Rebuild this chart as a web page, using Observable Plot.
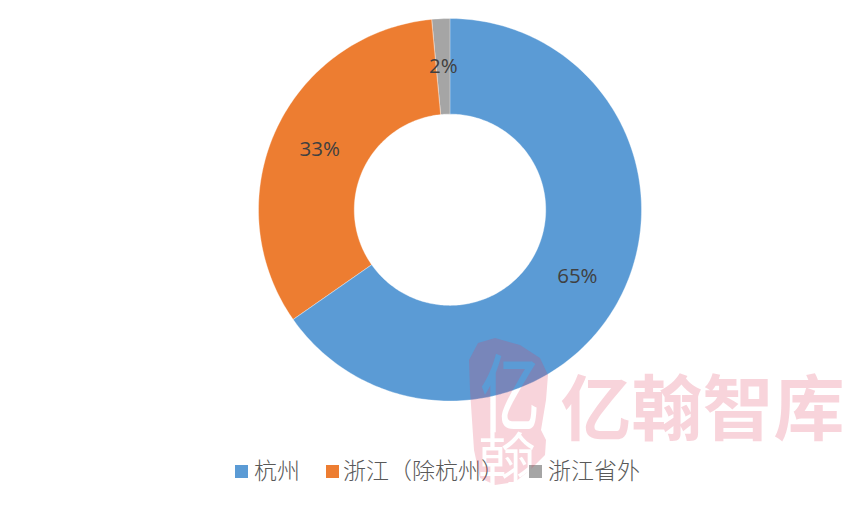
<!DOCTYPE html>
<html><head><meta charset="utf-8">
<script src="https://cdn.jsdelivr.net/npm/d3@7"></script>
<script src="https://cdn.jsdelivr.net/npm/@observablehq/plot@0.6"></script>
<style>
html,body{margin:0;padding:0;background:#fff;width:866px;height:505px;overflow:hidden;position:relative}
#legend{position:absolute;left:0;top:457px;width:866px;height:24px;font:300 23px "Noto Sans CJK SC",sans-serif;color:#595959}
#legend span{position:absolute;top:0;white-space:nowrap;line-height:24px;height:24px}
#legend i{position:absolute;top:8px;width:13px;height:13px}
#mark{position:absolute;left:0;top:0;pointer-events:none}
</style></head><body>
<div id="chart"></div>
<div id="legend"></div>
<svg id="mark" width="866" height="505" xmlns="http://www.w3.org/2000/svg">
  <defs><mask id="seal" maskUnits="userSpaceOnUse" x="0" y="0" width="866" height="505">
    <rect width="866" height="505" fill="#fff"/>
    <text transform="translate(510,425) scale(.85,1.2)" text-anchor="middle" font-family="Noto Sans CJK SC" font-size="70" font-weight="500" fill="#000">亿</text>
    <text x="507" y="481" text-anchor="middle" font-family="Noto Sans CJK SC" font-size="58" font-weight="400" fill="#000">翰</text>
  </mask></defs>
  <path mask="url(#seal)" fill="rgba(225,60,90,.22)" d="M469,360 L478,343 L495,338 L520,345 L540,358 L548,375 L546,400 L541,430 L546,440 L545,455 L530,470 L515,482 L495,485 L480,478 L474,450 L472,420 L470,390 Z"/>
  <text x="702.5" y="434" text-anchor="middle" font-family="Noto Sans CJK SC" font-size="71" font-weight="700" fill="rgba(225,60,90,.22)">亿翰智库</text>
</svg>
<script>
const categories = ["杭州", "浙江（除杭州）", "浙江省外"];
const shares = [65.3, 33.2, 1.5];
const labels = ["65%", "33%", "2%"];
const colors = ["#5B9BD5", "#ED7D31", "#A5A5A5"];
const holeRatio = 0.5;

const pie = d3.pie().sort(null)(shares);
// Ring outline of each slice, in unit-circle coordinates, derived from its share.
const ring = pie.flatMap((s, i) => {
  const n = Math.max(2, Math.ceil((s.endAngle - s.startAngle) * 60));
  const angs = d3.range(n + 1).map(k => s.startAngle + (s.endAngle - s.startAngle) * k / n);
  const pt = (a, r, o) => ({name: categories[i], x: r * Math.sin(a), y: r * Math.cos(a), o});
  return [...angs.map((a, k) => pt(a, 1, k)), ...angs.slice().reverse().map((a, k) => pt(a, holeRatio, n + 1 + k))];
});
const centroids = pie.map((s, i) => {
  const a = (s.startAngle + s.endAngle) / 2, r = (1 + holeRatio) / 2;
  return {label: labels[i], x: r * Math.sin(a), y: r * Math.cos(a)};
});

const plot = Plot.plot({
  width: 866, height: 440, margin: 0,
  x: {domain: [-1, 1], range: [258, 641], axis: null},
  y: {domain: [-1, 1], range: [400.5, 18], axis: null},
  color: {domain: categories, range: colors},
  style: {background: "transparent"},
  marks: [
    Plot.line(ring, {x: "x", y: "y", z: "name", fill: "name", stroke: "#fff", strokeWidth: 0.7, strokeOpacity: 0.5, curve: "linear-closed", sort: "o"}),
    Plot.text(centroids, {x: "x", y: "y", text: "label", fill: "#404040", fontSize: 20.5, fontFamily: "'Open Sans', sans-serif"})
  ]
});
document.getElementById("chart").appendChild(plot);

const legendX = [[235, 254], [326, 343], [529, 548]];
const legend = document.getElementById("legend");
categories.forEach((c, i) => {
  const sw = document.createElement("i");
  sw.style.left = legendX[i][0] + "px"; sw.style.background = colors[i];
  const t = document.createElement("span");
  t.style.left = legendX[i][1] + "px"; t.textContent = c;
  legend.append(sw, t);
});
</script>
</body></html>
